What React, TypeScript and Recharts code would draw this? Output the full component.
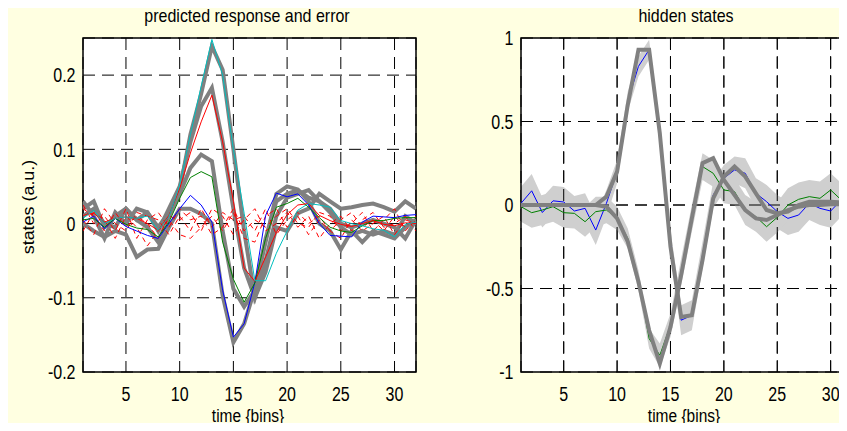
import {
  ComposedChart,
  Line,
  Area,
  XAxis,
  YAxis,
  CartesianGrid,
  ReferenceArea,
  ReferenceLine,
} from "recharts";

// ─── Data ────────────────────────────────────────

const bins = [
  1, 2, 3, 4, 5, 6, 7, 8, 9, 10, 11, 12, 13, 14, 15, 16, 17, 18, 19, 20, 21,
  22, 23, 24, 25, 26, 27, 28, 29, 30, 31, 32,
];

const xTicks = [5, 10, 15, 20, 25, 30];
const leftYTicks = [-0.2, -0.1, 0, 0.1, 0.2];
const rightYTicks = [-1, -0.5, 0, 0.5, 1];

// predicted response (thin coloured lines)
const predBlue = [
  0.002, 0.01, -0.007, 0.007, -0.004, -0.01, -0.016, -0.02, 0.0, 0.02, 0.038,
  0.025, 0.002, -0.09, -0.153, -0.135, -0.079, 0.011, 0.041, 0.036, 0.04,
  0.025, 0.0, -0.016, -0.017, -0.018, 0.002, 0.01, 0.009, 0.008, 0.011, 0.012,
];
const predGreen = [
  0.005, 0.007, -0.005, 0.007, -0.001, -0.006, -0.008, -0.018, 0.002, 0.034,
  0.062, 0.07, 0.063, -0.025, -0.075, -0.106, -0.08, -0.02, 0.022, 0.027,
  0.034, 0.022, 0.008, -0.005, -0.01, -0.012, -0.003, 0.004, 0.004, 0.007,
  0.008, 0.008,
];
const predRed = [
  0.011, 0.014, 0.002, 0.007, 0.009, 0.007, 0.0, -0.009, 0.011, 0.047, 0.095,
  0.137, 0.173, 0.11, 0.03, -0.06, -0.078, -0.045, -0.012, 0.012, 0.025,
  0.027, 0.011, 0.004, -0.001, -0.004, 0.0, 0.004, -0.001, -0.003, 0.001, 0.0,
];
const predCyan = [
  0.007, 0.018, 0.0, 0.007, 0.009, 0.007, 0.01, -0.009, 0.009, 0.052, 0.12,
  0.185, 0.248, 0.2, 0.1, 0.014, -0.077, -0.077, -0.04, -0.01, 0.018, 0.027,
  0.025, 0.022, 0.004, 0.0, -0.003, -0.007, -0.009, -0.018, -0.001, 0.002,
];

// true response (thick grey lines)
const trueA = [
  0.02, 0.03, -0.005, 0.01, 0.02, 0.005, 0.015, -0.005, 0.015, 0.045, 0.12,
  0.175, 0.239, 0.207, 0.1, -0.01, -0.1, -0.065, -0.005, -0.01, 0.014, 0.02,
  0.04, 0.03, 0.02, 0.022, 0.025, 0.027, 0.022, 0.016, 0.03, 0.02,
];
const trueB = [
  0.03, 0.01, -0.02, 0.015, 0.0, 0.02, 0.015, -0.01, 0.02, 0.05, 0.11, 0.158,
  0.183, 0.11, 0.02, -0.06, -0.1, -0.05, 0.01, 0.035, 0.04, 0.045, 0.03, 0.02,
  0.0, -0.005, 0.0, 0.005, 0.0, -0.005, -0.02, 0.005,
];
const trueC = [
  0.01, 0.02, 0.0, -0.005, 0.02, 0.005, -0.005, -0.025, 0.01, 0.04, 0.075,
  0.093, 0.084, -0.01, -0.088, -0.112, -0.09, -0.02, 0.03, 0.04, 0.045, 0.035,
  0.03, 0.015, -0.005, -0.015, -0.01, -0.015, -0.01, -0.015, 0.01, 0.0,
];
const trueD = [
  0.0, -0.01, -0.018, -0.01, -0.015, -0.045, -0.035, -0.034, -0.005, 0.02,
  0.02, 0.013, 0.0, -0.097, -0.16, -0.135, -0.088, -0.025, 0.04, 0.05, 0.046,
  0.03, 0.0, -0.01, -0.035, -0.01, -0.025, -0.01, -0.015, -0.02, -0.005,
  0.005,
];

// prediction error (red dashed)
const err1 = [
  0.02, 0.01, -0.01, 0.015, -0.005, 0.01, 0.0, -0.02, 0.01, 0.005, 0.015,
  -0.01, 0.02, 0.01, -0.015, 0.005, 0.02, -0.01, 0.0, 0.015, -0.005, 0.01,
  -0.02, 0.0, 0.01, -0.01, 0.005, 0.015, -0.005, 0.0, 0.01, -0.01,
];
const err2 = [
  -0.01, 0.015, 0.005, -0.02, 0.01, -0.005, -0.03, -0.01, 0.005, -0.015,
  -0.02, -0.005, 0.01, -0.01, 0.015, -0.02, -0.025, 0.01, 0.02, -0.005, 0.01,
  -0.015, 0.005, -0.01, -0.02, 0.005, -0.01, 0.0, 0.01, -0.015, 0.005, 0.0,
];
const err3 = [
  0.005, -0.015, 0.02, 0.0, -0.01, 0.015, 0.01, 0.005, -0.015, 0.01, -0.01,
  0.02, -0.005, 0.015, 0.005, 0.01, -0.01, 0.02, -0.015, 0.005, 0.015, 0.0,
  0.01, -0.01, 0.005, 0.015, -0.005, 0.005, -0.01, 0.01, -0.005, 0.01,
];
const err4 = [
  0.025, 0.0, 0.01, -0.01, 0.02, -0.02, 0.005, 0.015, -0.005, 0.02, 0.005,
  0.01, -0.015, -0.005, 0.02, -0.01, 0.005, -0.005, 0.01, 0.02, 0.0, -0.005,
  0.015, 0.01, -0.01, 0.0, 0.015, -0.01, 0.005, 0.02, -0.01, 0.005,
];

// hidden states: conditional estimates
const estBlue = [
  0.01, 0.085, -0.045, 0.025, 0.018, -0.036, -0.02, -0.15, 0.01, 0.2, 0.62,
  0.83, 0.93, 0.42, -0.22, -0.69, -0.66, -0.3, 0.06, 0.16, 0.21, 0.19, 0.07,
  0.02, -0.04, -0.08, -0.06, 0.01, -0.02, -0.036, 0.03, 0.03,
];
const estGreen = [
  -0.01, -0.046, -0.03, -0.01, -0.046, -0.05, -0.1, -0.04, -0.03, -0.08, -0.2,
  -0.45, -0.8, -0.9, -0.72, -0.4, -0.08, 0.23, 0.19, 0.09, 0.08, -0.03, -0.07,
  -0.13, -0.074, 0.0, 0.034, 0.05, 0.04, 0.09, 0.03, 0.03,
];
// half-width of the grey confidence band
const ciBlue = [
  0.1, 0.1, 0.09, 0.09, 0.09, 0.09, 0.09, 0.09, 0.08, 0.07, 0.06, 0.06, 0.06,
  0.06, 0.07, 0.09, 0.09, 0.08, 0.08, 0.08, 0.08, 0.09, 0.09, 0.1, 0.1, 0.1,
  0.1, 0.1, 0.1, 0.1, 0.1, 0.1,
];
const ciGreen = [
  0.09, 0.09, 0.09, 0.09, 0.09, 0.09, 0.09, 0.09, 0.08, 0.07, 0.06, 0.06,
  0.06, 0.07, 0.07, 0.08, 0.08, 0.08, 0.08, 0.08, 0.08, 0.09, 0.09, 0.09,
  0.09, 0.1, 0.1, 0.1, 0.1, 0.1, 0.1, 0.1,
];
// hidden states: true values
const stateA = [
  0, 0, 0, 0, 0, 0, 0, 0, 0.05, 0.2, 0.6, 0.93, 0.93, 0.43, -0.25, -0.67,
  -0.66, -0.33, 0.04, 0.17, 0.23, 0.17, 0.07, -0.03, -0.05, -0.04, 0.0, 0.02,
  0.02, 0.02, 0.015, 0.01,
];
const stateB = [
  0, 0, 0, 0, 0, 0, 0, 0, -0.01, -0.08, -0.22, -0.46, -0.75, -0.95, -0.73,
  -0.42, -0.08, 0.25, 0.28, 0.15, 0.06, -0.03, -0.08, -0.09, -0.06, -0.03,
  -0.01, 0.0, 0.0, 0.005, 0.005, 0.005,
];

const leftData = bins.map((t, i) => ({
  t,
  predBlue: predBlue[i],
  predGreen: predGreen[i],
  predRed: predRed[i],
  predCyan: predCyan[i],
  trueA: trueA[i],
  trueB: trueB[i],
  trueC: trueC[i],
  trueD: trueD[i],
  err1: err1[i],
  err2: err2[i],
  err3: err3[i],
  err4: err4[i],
}));

const rightData = bins.map((t, i) => ({
  t,
  estBlue: estBlue[i],
  estGreen: estGreen[i],
  bandBlue: [estBlue[i] - ciBlue[i], estBlue[i] + ciBlue[i]],
  bandGreen: [estGreen[i] - ciGreen[i], estGreen[i] + ciGreen[i]],
  stateA: stateA[i],
  stateB: stateB[i],
}));

// ─── Styling ─────────────────────────────────────

const FONT = "'Liberation Sans', Arial, sans-serif";
const BG = "#FFFFE1";
const GREY = "#808080";
const GRID_DASH = "12 7";

// ─── Ticks ───────────────────────────────────────

function XTick({ x, y, payload }: any) {
  return (
    <g transform={`translate(${x},${y + 20})`}>
      <text
        transform="scale(1,1.25)"
        textAnchor="middle"
        dy="0.36em"
        fontSize={16}
        fontFamily={FONT}
        fill="#000"
      >
        {payload.value}
      </text>
    </g>
  );
}

function YTick({ x, y, payload }: any) {
  return (
    <g transform={`translate(${x - 5.5},${y})`}>
      <text
        transform="scale(1,1.25)"
        textAnchor="end"
        dy="0.36em"
        fontSize={16}
        fontFamily={FONT}
        fill="#000"
      >
        {payload.value}
      </text>
    </g>
  );
}

// ─── Component ───────────────────────────────────

export default function App() {
  return (
    <div
      style={{
        position: "relative",
        width: 847,
        height: 431,
        margin: -8,
        overflow: "hidden",
        background: BG,
      }}
    >
      {/* predicted response and error */}
      <div style={{ position: "absolute", left: 0, top: 0 }}>
        <ComposedChart
          width={424}
          height={431}
          data={leftData}
          margin={{ top: 38, right: 8, bottom: 29, left: 23 }}
        >
          <CartesianGrid
            stroke="#000"
            strokeDasharray={GRID_DASH}
            fill="#fff"
            fillOpacity={1}
          />
          <XAxis
            dataKey="t"
            type="number"
            domain={[1, 32]}
            ticks={xTicks}
            allowDataOverflow
            tick={<XTick />}
            tickLine={false}
            tickSize={0}
            axisLine={false}
            height={30}
          />
          <YAxis
            type="number"
            domain={[-0.2, 0.25]}
            ticks={leftYTicks}
            allowDataOverflow
            tick={<YTick />}
            tickLine={false}
            tickSize={0}
            axisLine={false}
            width={60}
          />
          {["trueA", "trueB", "trueC", "trueD"].map((k) => (
            <Line
              key={k}
              dataKey={k}
              type="linear"
              stroke={GREY}
              strokeWidth={4}
              dot={false}
              isAnimationActive={false}
            />
          ))}
          {["err1", "err2", "err3", "err4"].map((k) => (
            <Line
              key={k}
              dataKey={k}
              type="linear"
              stroke="#ff0000"
              strokeWidth={1}
              strokeDasharray="5 4"
              dot={false}
              isAnimationActive={false}
            />
          ))}
          <Line dataKey="predBlue" type="linear" stroke="#0000ff" strokeWidth={1} dot={false} isAnimationActive={false} />
          <Line dataKey="predGreen" type="linear" stroke="#008000" strokeWidth={1} dot={false} isAnimationActive={false} />
          <Line dataKey="predRed" type="linear" stroke="#ff0000" strokeWidth={1} dot={false} isAnimationActive={false} />
          <Line dataKey="predCyan" type="linear" stroke="#00bfbf" strokeWidth={1} dot={false} isAnimationActive={false} />
          <ReferenceArea
            x1={1}
            x2={32}
            y1={-0.2}
            y2={0.25}
            fill="none"
            stroke="#000"
            strokeWidth={1.5}
            ifOverflow="visible"
          />
        </ComposedChart>
      </div>

      {/* hidden states */}
      <div style={{ position: "absolute", left: 424, top: 0 }}>
        <ComposedChart
          width={436}
          height={431}
          data={rightData}
          margin={{ top: 38, right: 8, bottom: 29, left: 37 }}
        >
          <CartesianGrid
            stroke="#000"
            strokeDasharray={GRID_DASH}
            fill="#fff"
            fillOpacity={1}
          />
          <XAxis
            dataKey="t"
            type="number"
            domain={[1, 32]}
            ticks={xTicks}
            allowDataOverflow
            tick={<XTick />}
            tickLine={false}
            tickSize={0}
            axisLine={false}
            height={30}
          />
          <YAxis
            type="number"
            domain={[-1, 1]}
            ticks={rightYTicks}
            allowDataOverflow
            tick={<YTick />}
            tickLine={false}
            tickSize={0}
            axisLine={false}
            width={60}
          />
          <Area dataKey="bandBlue" type="linear" stroke="none" fill="#cfcfcf" fillOpacity={1} isAnimationActive={false} />
          <Area dataKey="bandGreen" type="linear" stroke="none" fill="#cfcfcf" fillOpacity={1} isAnimationActive={false} />
          {/* grid drawn again over the confidence band */}
          {xTicks.map((v) => (
            <ReferenceLine key={`x${v}`} x={v} stroke="#000" strokeDasharray={GRID_DASH} />
          ))}
          {rightYTicks.slice(1, -1).map((v) => (
            <ReferenceLine key={`y${v}`} y={v} stroke="#000" strokeDasharray={GRID_DASH} />
          ))}
          <Line dataKey="estBlue" type="linear" stroke="#0000ff" strokeWidth={1} dot={false} isAnimationActive={false} />
          <Line dataKey="estGreen" type="linear" stroke="#008000" strokeWidth={1} dot={false} isAnimationActive={false} />
          <Line dataKey="stateA" type="linear" stroke={GREY} strokeWidth={4} dot={false} isAnimationActive={false} />
          <Line dataKey="stateB" type="linear" stroke={GREY} strokeWidth={4} dot={false} isAnimationActive={false} />
          <ReferenceArea
            x1={1}
            x2={32}
            y1={-1}
            y2={1}
            fill="none"
            stroke="#000"
            strokeWidth={1.5}
            ifOverflow="visible"
          />
        </ComposedChart>
      </div>

      {/* titles and axis labels */}
      <svg
        width={847}
        height={431}
        style={{ position: "absolute", left: 0, top: 0, pointerEvents: "none" }}
        fontFamily={FONT}
        fill="#000"
      >
        <g transform="translate(247,22) scale(1,1.15)">
          <text textAnchor="middle" fontSize={16}>
            predicted response and error
          </text>
        </g>
        <g transform="translate(686,22) scale(1,1.15)">
          <text textAnchor="middle" fontSize={16}>
            hidden states
          </text>
        </g>
        <g transform="translate(248,422) scale(1,1.15)">
          <text textAnchor="middle" fontSize={15.5}>
            time {"{bins}"}
          </text>
        </g>
        <g transform="translate(684,422) scale(1,1.15)">
          <text textAnchor="middle" fontSize={15.5}>
            time {"{bins}"}
          </text>
        </g>
        <g transform="translate(34,207) rotate(-90) scale(1.12,1)">
          <text textAnchor="middle" fontSize={16}>
            states (a.u.)
          </text>
        </g>
      </svg>
    </div>
  );
}
